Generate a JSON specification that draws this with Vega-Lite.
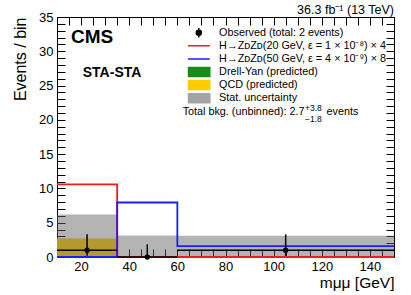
{
  "$schema": "https://vega.github.io/schema/vega-lite/v6.json",
  "width": 337,
  "height": 240,
  "autosize": {"type": "none"},
  "padding": {"left": 57, "top": 17, "right": 17, "bottom": 38},
  "background": "white",
  "title": {"text": "36.3 fb⁻¹ (13 TeV)", "anchor": "end", "frame": "group", "fontSize": 12.5, "fontWeight": "normal", "font": "Liberation Sans", "baseline": "alphabetic", "offset": -4.5, "dy": 10.5, "color": "black"},
  "config": {
    "font": "Liberation Sans",
    "view": {"stroke": "black", "strokeWidth": 1}
  },
  "datasets": {
    "bins": [
      {"lo": 10, "hi": 35, "center": 22.5, "base": 0, "qcd": 2.7, "stat_hi": 6.2, "obs": 1, "obs_lo": 0.173, "obs_hi": 3.3},
      {"lo": 35, "hi": 60, "center": 47.5, "base": 0, "qcd": 0, "stat_hi": 3.15, "obs": 0, "obs_lo": 0, "obs_hi": 1.84},
      {"lo": 60, "hi": 150, "center": 105, "base": 0, "qcd": 0, "stat_hi": 3.1, "obs": 1, "obs_lo": 0.173, "obs_hi": 3.3}
    ],
    "signal": [
      {"series": "20 GeV", "edge": 10, "value": 10.6},
      {"series": "20 GeV", "edge": 35, "value": 0},
      {"series": "20 GeV", "edge": 60, "value": 0},
      {"series": "20 GeV", "edge": 150, "value": 0},
      {"series": "50 GeV", "edge": 10, "value": 0},
      {"series": "50 GeV", "edge": 35, "value": 7.95},
      {"series": "50 GeV", "edge": 60, "value": 1.6},
      {"series": "50 GeV", "edge": 150, "value": 1.6}
    ],
    "legend": [
      {"label": "Observed (total: 2 events)"},
      {"label": "H→ZᴅZᴅ(20 GeV, ε = 1 × 10⁻⁸) × 4"},
      {"label": "H→ZᴅZᴅ(50 GeV, ε = 4 × 10⁻⁹) × 8"},
      {"label": "Drell-Yan (predicted)"},
      {"label": "QCD (predicted)"},
      {"label": "Stat. uncertainty"}
    ]
  },
  "resolve": {"axis": {"x": "independent", "y": "independent"}},
  "layer": [
    {
      "data": {"name": "bins"},
      "mark": {"type": "rect", "color": "#ffcc00"},
      "encoding": {
        "x": {"field": "lo", "type": "quantitative", "scale": {"domain": [10, 150], "nice": false, "zero": false},
          "axis": {"orient": "bottom", "values": [10,15,20,25,30,35,40,45,50,55,60,65,70,75,80,85,90,95,100,105,110,115,120,125,130,135,140,145,150],
            "labelExpr": "datum.value % 20 === 0 ? datum.label : ''", "tickSize": -8, "domain": false, "grid": false,
            "tickColor": "black", "tickWidth": 1, "labelFontSize": 13, "labelColor": "black", "labelPadding": 11,
            "labelOverlap": false, "labelFlush": false, "labelBaseline": "top",
            "title": "mμμ [GeV]", "titleFontSize": 15.5, "titleFontWeight": "normal", "titleColor": "black",
            "titleX": 337, "titleY": 30, "titleAlign": "right", "titleBaseline": "alphabetic",
            "encode": {"ticks": {"update": {"y2": {"signal": "datum.value % 20 === 0 ? -8 : -4"}}}}}},
        "x2": {"field": "hi"},
        "y": {"field": "base", "type": "quantitative", "scale": {"domain": [0, 35], "nice": false, "zero": false},
          "axis": {"orient": "left", "values": [0,1,2,3,4,5,6,7,8,9,10,11,12,13,14,15,16,17,18,19,20,21,22,23,24,25,26,27,28,29,30,31,32,33,34,35],
            "labelExpr": "datum.value % 5 === 0 ? datum.label : ''", "tickSize": -8, "domain": false, "grid": false,
            "tickColor": "black", "tickWidth": 1, "labelFontSize": 13, "labelColor": "black", "labelPadding": 12,
            "labelOverlap": false, "labelFlush": false,
            "title": "Events / bin", "titleFontSize": 16, "titleFontWeight": "normal", "titleColor": "black",
            "titleX": -32, "titleY": 0, "titleAlign": "right", "titleAngle": -90, "titleBaseline": "alphabetic",
            "encode": {"ticks": {"update": {"x2": {"signal": "datum.value % 5 === 0 ? 8 : 4"}}}}}},
        "y2": {"field": "qcd"}
      }
    },
    {
      "data": {"name": "bins"},
      "mark": {"type": "rect", "color": "#626262", "opacity": 0.48},
      "encoding": {
        "x": {"field": "lo", "type": "quantitative",
          "axis": {"orient": "top", "values": [10,15,20,25,30,35,40,45,50,55,60,65,70,75,80,85,90,95,100,105,110,115,120,125,130,135,140,145,150],
            "labels": false, "tickSize": -8, "domain": false, "grid": false, "title": null, "tickColor": "black", "tickWidth": 1,
            "encode": {"ticks": {"update": {"y2": {"signal": "datum.value % 20 === 0 ? 8 : 4"}}}}}},
        "x2": {"field": "hi"},
        "y": {"field": "base", "type": "quantitative",
          "axis": {"orient": "right", "values": [0,1,2,3,4,5,6,7,8,9,10,11,12,13,14,15,16,17,18,19,20,21,22,23,24,25,26,27,28,29,30,31,32,33,34,35],
            "labels": false, "tickSize": -8, "domain": false, "grid": false, "title": null, "tickColor": "black", "tickWidth": 1,
            "encode": {"ticks": {"update": {"x2": {"signal": "datum.value % 5 === 0 ? -8 : -4"}}}}}},
        "y2": {"field": "stat_hi"}
      }
    },
    {
      "data": {"name": "signal"},
      "mark": {"type": "line", "interpolate": "step-after", "strokeWidth": 1.8},
      "encoding": {
        "x": {"field": "edge", "type": "quantitative", "axis": null},
        "y": {"field": "value", "type": "quantitative", "axis": null},
        "color": {"field": "series", "type": "nominal", "scale": {"domain": ["20 GeV", "50 GeV"], "range": ["#ee1c1c", "#1c1cff"]}, "legend": null}
      }
    },
    {
      "data": {"name": "bins"},
      "mark": {"type": "rule", "color": "black", "strokeWidth": 1.5},
      "encoding": {
        "x": {"field": "lo", "type": "quantitative", "axis": null},
        "x2": {"field": "hi"},
        "y": {"field": "obs", "type": "quantitative", "axis": null}
      }
    },
    {
      "data": {"name": "bins"},
      "mark": {"type": "rule", "color": "black", "strokeWidth": 1.5},
      "encoding": {
        "x": {"field": "center", "type": "quantitative", "axis": null},
        "y": {"field": "obs_lo", "type": "quantitative", "axis": null},
        "y2": {"field": "obs_hi"}
      }
    },
    {
      "data": {"name": "bins"},
      "mark": {"type": "point", "filled": true, "color": "black", "opacity": 1, "size": 28},
      "encoding": {
        "x": {"field": "center", "type": "quantitative", "axis": null},
        "y": {"field": "obs", "type": "quantitative", "axis": null}
      }
    },
    {
      "data": {"name": "legend"},
      "mark": {"type": "point", "filled": true, "opacity": 0, "strokeWidth": 1.5},
      "encoding": {
        "fill": {"field": "label", "type": "nominal",
          "scale": {"domain": ["Observed (total: 2 events)", "H→ZᴅZᴅ(20 GeV, ε = 1 × 10⁻⁸) × 4", "H→ZᴅZᴅ(50 GeV, ε = 4 × 10⁻⁹) × 8", "Drell-Yan (predicted)", "QCD (predicted)", "Stat. uncertainty"],
            "range": ["black", "#ee1c1c", "#1c1cff", "#1a8a1a", "#ffcc00", "#a3a3a3"]},
          "legend": {"orient": "none", "legendX": 130.8, "legendY": 9.7, "title": null, "padding": 0,
            "labelFontSize": 10.8, "labelColor": "black", "labelFont": "Liberation Sans", "labelLimit": 400,
            "symbolSize": 100, "clipHeight": 12, "rowPadding": 1.1, "symbolOffset": 5, "labelOffset": 14.3,
            "symbolStrokeWidth": 1.5, "symbolOpacity": 1,
            "encode": {"symbols": {"update": {"opacity": {"value": 1}}}}}},
        "stroke": {"field": "label", "type": "nominal",
          "scale": {"domain": ["Observed (total: 2 events)", "H→ZᴅZᴅ(20 GeV, ε = 1 × 10⁻⁸) × 4", "H→ZᴅZᴅ(50 GeV, ε = 4 × 10⁻⁹) × 8", "Drell-Yan (predicted)", "QCD (predicted)", "Stat. uncertainty"],
            "range": ["black", "#ee1c1c", "#1c1cff", "#1a8a1a", "#ffcc00", "#a3a3a3"]}},
        "shape": {"field": "label", "type": "nominal",
          "scale": {"domain": ["Observed (total: 2 events)", "H→ZᴅZᴅ(20 GeV, ε = 1 × 10⁻⁸) × 4", "H→ZᴅZᴅ(50 GeV, ε = 4 × 10⁻⁹) × 8", "Drell-Yan (predicted)", "QCD (predicted)", "Stat. uncertainty"],
            "range": ["M0,-0.94V0.94M-0.5,0A0.5,0.5,0,1,1,0.5,0A0.5,0.5,0,1,1,-0.5,0Z", "M-2.2,0H2.2", "M-2.2,0H2.2", "M-2.2,-0.9H2.2V0.9H-2.2Z", "M-2.2,-0.9H2.2V0.9H-2.2Z", "M-2.2,-0.9H2.2V0.9H-2.2Z"]}}
      }
    },
    {
      "data": {"values": [{}]},
      "mark": {"type": "text", "text": "CMS", "fontSize": 19, "fontWeight": "bold", "align": "left", "baseline": "alphabetic", "color": "black"},
      "encoding": {
        "x": {"datum": 15.8, "type": "quantitative", "axis": null},
        "y": {"datum": 31.2, "type": "quantitative", "axis": null}
      }
    },
    {
      "data": {"values": [{}]},
      "mark": {"type": "text", "text": "STA-STA", "fontSize": 14, "fontWeight": "bold", "align": "left", "baseline": "alphabetic", "color": "black"},
      "encoding": {
        "x": {"datum": 20.7, "type": "quantitative", "axis": null},
        "y": {"datum": 26.2, "type": "quantitative", "axis": null}
      }
    },
    {
      "data": {"values": [{}]},
      "mark": {"type": "text", "text": "Total bkg. (unbinned): 2.7", "fontSize": 10.8, "align": "left", "baseline": "alphabetic", "color": "black"},
      "encoding": {
        "x": {"datum": 62.2, "type": "quantitative", "axis": null},
        "y": {"datum": 20.7, "type": "quantitative", "axis": null}
      }
    },
    {
      "data": {"values": [{}]},
      "mark": {"type": "text", "text": "+3.8", "fontSize": 8.5, "align": "left", "baseline": "alphabetic", "color": "black"},
      "encoding": {
        "x": {"datum": 113.0, "type": "quantitative", "axis": null},
        "y": {"datum": 21.25, "type": "quantitative", "axis": null}
      }
    },
    {
      "data": {"values": [{}]},
      "mark": {"type": "text", "text": "−1.8", "fontSize": 8.5, "align": "left", "baseline": "alphabetic", "color": "black"},
      "encoding": {
        "x": {"datum": 113.0, "type": "quantitative", "axis": null},
        "y": {"datum": 19.75, "type": "quantitative", "axis": null}
      }
    },
    {
      "data": {"values": [{}]},
      "mark": {"type": "text", "text": "events", "fontSize": 10.8, "align": "left", "baseline": "alphabetic", "color": "black"},
      "encoding": {
        "x": {"datum": 122.0, "type": "quantitative", "axis": null},
        "y": {"datum": 20.7, "type": "quantitative", "axis": null}
      }
    }
  ]
}
